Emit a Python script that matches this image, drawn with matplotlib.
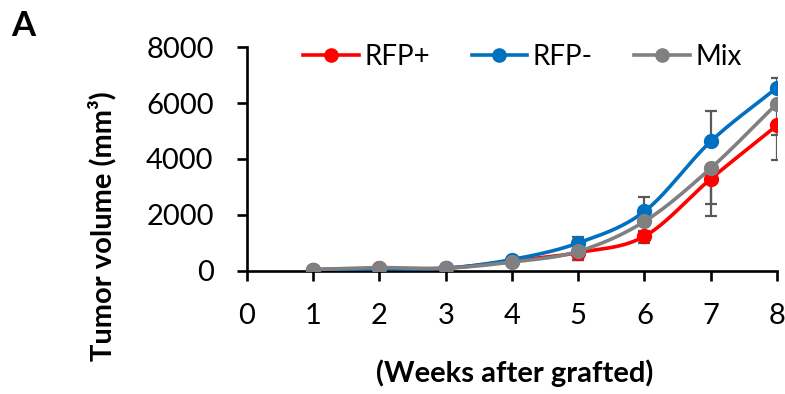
import numpy as np
import matplotlib
matplotlib.use("Agg")
import matplotlib.pyplot as plt

plt.rcParams['font.family'] = ['Lato', 'DejaVu Sans']

# data
weeks = [1, 2, 3, 4, 5, 6, 7, 8]
rfp_pos = [50, 90, 100, 360, 660, 1240, 3290, 5200]
rfp_neg = [50, 80, 100, 410, 1000, 2130, 4630, 6550]
mix = [50, 120, 100, 320, 700, 1770, 3670, 5980]

# error bars: RFP- shown upward only, RFP+ and Mix downward only
rfp_neg_err = [10, 10, 20, 60, 200, 520, 1100, 330]
rfp_pos_err = [10, 10, 20, 60, 250, 240, 890, 1250]
mix_err = [10, 10, 20, 60, 310, 330, 1720, 1140]

x_ticks = [0, 1, 2, 3, 4, 5, 6, 7, 8]
y_ticks = [0, 2000, 4000, 6000, 8000]


def smooth(x, y, n=30):
    # Catmull-Rom curve through the points (Excel "smoothed line" look)
    x = np.asarray(x, float)
    y = np.asarray(y, float)
    px = np.concatenate([[2 * x[0] - x[1]], x, [2 * x[-1] - x[-2]]])
    py = np.concatenate([[2 * y[0] - y[1]], y, [2 * y[-1] - y[-2]]])
    xs, ys = [], []
    t = np.linspace(0, 1, n)
    for i in range(1, len(px) - 2):
        for p, out in ((px, xs), (py, ys)):
            p0, p1, p2, p3 = p[i - 1], p[i], p[i + 1], p[i + 2]
            out.extend(0.5 * ((2 * p1) + (-p0 + p2) * t
                              + (2 * p0 - 5 * p1 + 4 * p2 - p3) * t ** 2
                              + (-p0 + 3 * p1 - 3 * p2 + p3) * t ** 3))
    return xs, ys


fig = plt.figure(figsize=(7.85, 3.94), dpi=100)
ax = fig.add_axes([0.3146, 0.3122, 0.6752, 0.5685])

err_color = '#595959'
ax.errorbar(weeks, rfp_neg, yerr=[np.zeros(8), rfp_neg_err], fmt='none',
            ecolor=err_color, elinewidth=1.6, capsize=4.5, capthick=1.6, zorder=1)
ax.errorbar(weeks, rfp_pos, yerr=[rfp_pos_err, np.zeros(8)], fmt='none',
            ecolor=err_color, elinewidth=1.6, capsize=4.5, capthick=1.6, zorder=1)
ax.errorbar(weeks, mix, yerr=[mix_err, np.zeros(8)], fmt='none',
            ecolor=err_color, elinewidth=1.6, capsize=4.5, capthick=1.6, zorder=1)

series = [("RFP+", rfp_pos, '#FF0000'),
          ("RFP-", rfp_neg, '#0070C0'),
          ("Mix", mix, '#808080')]
handles = []
for i, (name, vals, col) in enumerate(series):
    sx, sy = smooth(weeks, vals)
    ax.plot(sx, sy, color=col, lw=2.6, zorder=2 + i, solid_capstyle='round')
    ax.plot(weeks, vals, 'o', color=col, ms=10, zorder=2 + i)
    h, = ax.plot([], [], '-o', color=col, lw=2.6, ms=9.5, label=name)
    handles.append(h)

ax.set_xlim(0, 8)
ax.set_ylim(0, 8000)
ax.set_xticks(x_ticks)
ax.set_yticks(y_ticks)
for s in ['top', 'right']:
    ax.spines[s].set_visible(False)
for s in ['left', 'bottom']:
    ax.spines[s].set_linewidth(1.9)
ax.tick_params(axis='x', direction='out', length=7, width=1.9, labelsize=21, pad=16)
ax.tick_params(axis='y', direction='out', length=7, width=1.9, labelsize=21, pad=17)

leg = ax.legend(handles=handles, loc='upper center', ncol=3, frameon=False,
                fontsize=20, handlelength=2.0, handletextpad=0.2, columnspacing=1.5,
                bbox_to_anchor=(0.52, 1.065), borderaxespad=0)

fig.text(0.13, 0.425, 'Tumor volume (mm³)', rotation=90, ha='center', va='center',
         fontsize=21, fontweight='bold')
fig.text(0.656, 0.053, '(Weeks after grafted)', ha='center', va='center',
         fontsize=21, fontweight='bold')
fig.text(0.014, 0.935, 'A', ha='left', va='center', fontsize=25, fontweight='bold')

fig.savefig('out.png', dpi=100)
